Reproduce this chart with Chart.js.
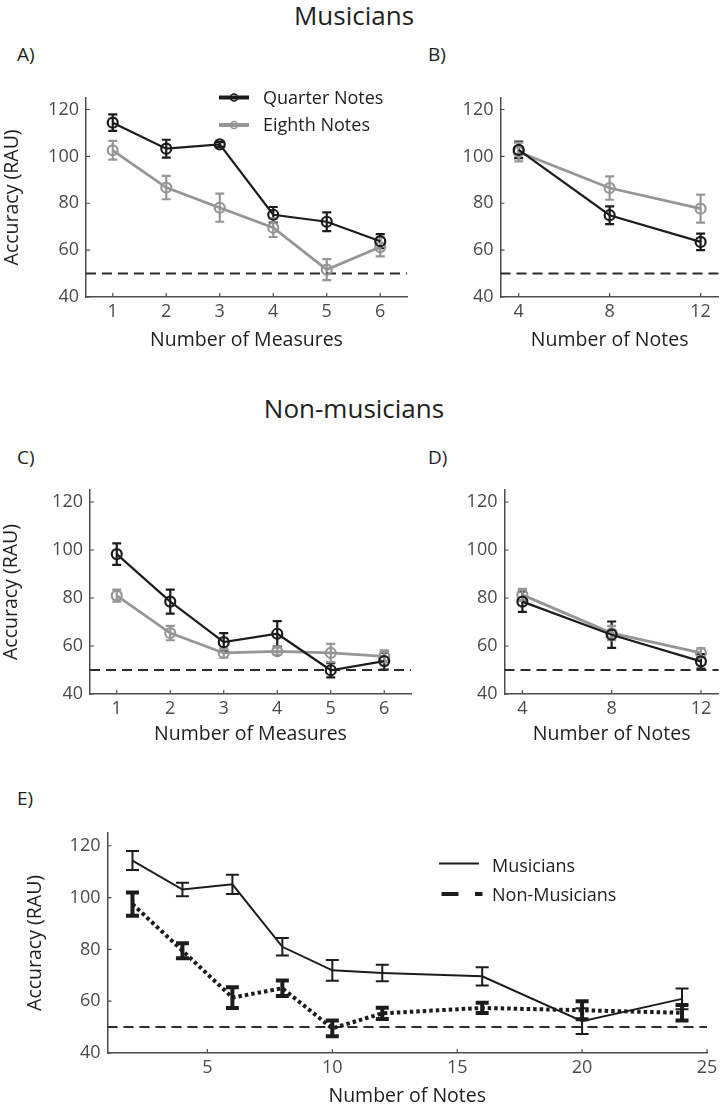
<!DOCTYPE html>
<html>
<head>
<meta charset="utf-8">
<script src="https://cdn.jsdelivr.net/npm/chart.js@4.4.1/dist/chart.umd.min.js"></script>
<style>
  body { margin: 0; width: 726px; height: 1104px; background: #fff; position: relative; overflow: hidden; font-family: 'Open Sans', sans-serif; color: #1e1e1e; }
  canvas { position: absolute; }
  .txt { position: absolute; white-space: nowrap; }
  .head { font-size: 26px; line-height: 26px; }
  .tag { font-size: 19px; line-height: 19px; }
  .leg { font-size: 18px; line-height: 18px; }
  svg { position: absolute; overflow: visible; }
</style>
</head>
<body>

<div class="txt head" style="left:354px; top:2px; transform:translateX(-50%);">Musicians</div>
<div class="txt head" style="left:354px; top:395px; transform:translateX(-50%);">Non-musicians</div>

<div class="txt tag" style="left:17px; top:45px;">A)</div>
<div class="txt tag" style="left:428px; top:45px;">B)</div>
<div class="txt tag" style="left:17px; top:448px;">C)</div>
<div class="txt tag" style="left:428px; top:448px;">D)</div>
<div class="txt tag" style="left:17px; top:789px;">E)</div>

<canvas id="chartA"></canvas>
<canvas id="chartB"></canvas>
<canvas id="chartC"></canvas>
<canvas id="chartD"></canvas>
<canvas id="chartE"></canvas>

<!-- legend for panel A -->
<svg style="left:0; top:0;" width="1" height="1">
  <line x1="219" y1="97.5" x2="249" y2="97.5" stroke="#1c1c1c" stroke-width="4"/>
  <circle cx="234" cy="97.5" r="3.5" fill="none" stroke="#1c1c1c" stroke-width="1.5"/>
  <line x1="219" y1="125" x2="249" y2="125" stroke="#969696" stroke-width="4"/>
  <circle cx="234" cy="125" r="3.5" fill="none" stroke="#969696" stroke-width="1.5"/>
  <line x1="439" y1="863.5" x2="479" y2="863.5" stroke="#1c1c1c" stroke-width="2"/>
  <line x1="441.5" y1="894" x2="458.5" y2="894" stroke="#1c1c1c" stroke-width="4"/>
  <line x1="475" y1="894" x2="482.5" y2="894" stroke="#1c1c1c" stroke-width="4"/>
</svg>
<div class="txt leg" style="left:263px; top:88px;">Quarter Notes</div>
<div class="txt leg" style="left:263px; top:115px;">Eighth Notes</div>
<div class="txt leg" style="left:492px; top:856px;">Musicians</div>
<div class="txt leg" style="left:492px; top:885px;">Non-Musicians</div>

<script>
// tick values and chance level
const yTicks = [40, 60, 80, 100, 120];
const chance = 50;

const measures = [1, 2, 3, 4, 5, 6];
const notes = [4, 8, 12];
const notesAll = [2, 4, 6, 8, 10, 12, 16, 20, 24];
const notesAllTicks = [5, 10, 15, 20, 25];

// A) musicians, by number of measures
const quarterMusMeasures = [114.4, 103.3, 105.1, 75.1, 72.1, 63.8];
const quarterMusMeasuresErr = [3.5, 3.8, 1.0, 3.3, 4.0, 3.0];
const eighthMusMeasures = [102.6, 86.7, 78.1, 69.6, 51.7, 61.3];
const eighthMusMeasuresErr = [4.0, 5.0, 6.0, 4.0, 4.5, 4.0];

// B) musicians, by number of notes
const quarterMusNotes = [102.8, 74.9, 63.5];
const quarterMusNotesErr = [3.5, 3.8, 3.5];
const eighthMusNotes = [101.9, 86.5, 77.7];
const eighthMusNotesErr = [4.0, 5.0, 6.0];

// C) non-musicians, by number of measures
const quarterNonMeasures = [98.3, 78.5, 61.6, 65.1, 49.9, 53.7];
const quarterNonMeasuresErr = [4.5, 5.0, 3.8, 5.3, 3.0, 3.5];
const eighthNonMeasures = [81.0, 65.4, 57.1, 57.8, 57.1, 55.7];
const eighthNonMeasuresErr = [2.5, 3.0, 2.0, 1.5, 3.8, 2.5];

// D) non-musicians, by number of notes
const quarterNonNotes = [78.5, 64.7, 53.6];
const quarterNonNotesErr = [4.3, 5.5, 3.0];
const eighthNonNotes = [81.3, 65.4, 57.1];
const eighthNonNotesErr = [2.5, 3.0, 2.0];

// E) both groups, all note counts
const musiciansAll = [114.3, 103.1, 105.1, 81.0, 71.9, 70.9, 69.6, 52.3, 60.9];
const musiciansAllErr = [3.7, 2.6, 3.7, 3.4, 4.0, 3.2, 3.5, 5.0, 4.0];
const nonMusiciansAll = [97.5, 79.5, 61.4, 65.0, 49.5, 55.3, 57.4, 56.5, 55.5];
const nonMusiciansAllErr = [4.5, 2.9, 4.0, 3.0, 3.0, 2.2, 2.0, 3.5, 3.0];

const dark = '#1c1c1c';
const gray = '#969696';
const axisColor = '#4d4d4d';
const tickColor = '#4a4a4a';
const fontFamily = "'Open Sans', sans-serif";

const pts = (xs, ys) => xs.map((x, i) => ({ x: x, y: ys[i] }));

// error bars drawn with the chart's own y scale
const errorBars = {
	id: 'errorBars',
	beforeDatasetsDraw(chart) {
		const ctx = chart.ctx;
		const y = chart.scales.y;
		chart.data.datasets.forEach((ds, i) => {
			if (!ds.errors) return;
			const meta = chart.getDatasetMeta(i);
			const c = ds.capWidth / 2;
			ctx.save();
			ctx.strokeStyle = ds.borderColor;
			ctx.lineWidth = ds.errorWidth;
			ctx.beginPath();
			meta.data.forEach((pt, j) => {
				const v = ds.data[j].y;
				const top = y.getPixelForValue(v + ds.errors[j]);
				const bot = y.getPixelForValue(v - ds.errors[j]);
				ctx.moveTo(pt.x, top); ctx.lineTo(pt.x, bot);
				ctx.moveTo(pt.x - c, top); ctx.lineTo(pt.x + c, top);
				ctx.moveTo(pt.x - c, bot); ctx.lineTo(pt.x + c, bot);
			});
			ctx.stroke();
			ctx.restore();
		});
	}
};

// small tick marks pointing into the plot, like the original figure
const innerTicks = {
	id: 'innerTicks',
	afterDraw(chart) {
		const { ctx, chartArea: a, scales: { x, y } } = chart;
		ctx.save();
		ctx.strokeStyle = axisColor;
		ctx.lineWidth = 1.2;
		ctx.beginPath();
		x.ticks.forEach(t => {
			const px = x.getPixelForValue(t.value);
			ctx.moveTo(px, a.bottom); ctx.lineTo(px, a.bottom - 4);
		});
		y.ticks.forEach(t => {
			const py = y.getPixelForValue(t.value);
			ctx.moveTo(a.left, py); ctx.lineTo(a.left + 4, py);
		});
		ctx.stroke();
		ctx.restore();
	}
};

function chanceLine(xMin, xMax) {
	return {
		data: [{ x: xMin, y: chance }, { x: xMax, y: chance }],
		borderColor: '#2b2b2b',
		borderWidth: 2,
		borderDash: [10, 6],
		pointRadius: 0
	};
}

function circleSeries(xs, ys, errs, color, width) {
	return {
		data: pts(xs, ys),
		errors: errs,
		borderColor: color,
		borderWidth: width,
		errorWidth: 2.2,
		capWidth: 9,
		pointRadius: 5,
		pointBorderWidth: 2.2,
		pointBorderColor: color,
		pointBackgroundColor: 'rgba(0,0,0,0)'
	};
}

function drawPanel(id, frame, plot, xMin, xMax, xTicks, xTitle, yTitle, yTitlePad, datasets) {
	const canvas = document.getElementById(id);
	canvas.width = frame.width;
	canvas.height = frame.height;
	canvas.style.left = frame.left + 'px';
	canvas.style.top = frame.top + 'px';

	const yWidth = plot.left - frame.left;
	const xHeight = frame.top + frame.height - plot.bottom;

	return new Chart(canvas.getContext('2d'), {
		type: 'line',
		data: { datasets: datasets },
		options: {
			responsive: false,
			animation: false,
			layout: {
				padding: { top: plot.top - frame.top, right: frame.left + frame.width - plot.right, left: 0, bottom: 0 }
			},
			elements: { line: { tension: 0, fill: false } },
			plugins: { legend: { display: false }, tooltip: { enabled: false } },
			scales: {
				x: {
					type: 'linear',
					min: xMin,
					max: xMax,
					grid: { display: false, drawTicks: false },
					border: { display: true, color: axisColor, width: 1.5 },
					afterBuildTicks: s => { s.ticks = xTicks.map(v => ({ value: v })); },
					afterFit: s => { s.height = xHeight; },
					ticks: { color: tickColor, font: { family: fontFamily, size: 18 }, padding: 4, maxRotation: 0, autoSkip: false },
					title: { display: true, text: xTitle, color: '#1e1e1e', font: { family: fontFamily, size: 19.5 }, padding: 0 }
				},
				y: {
					min: 40,
					max: 125,
					grid: { display: false, drawTicks: false },
					border: { display: true, color: axisColor, width: 1.5 },
					afterBuildTicks: s => { s.ticks = yTicks.map(v => ({ value: v })); },
					afterFit: s => { s.width = yWidth; },
					ticks: { color: tickColor, font: { family: fontFamily, size: 18 }, padding: 7 },
					title: { display: !!yTitle, text: yTitle || '', color: '#1e1e1e', font: { family: fontFamily, size: 19.5 }, padding: { top: yTitlePad, bottom: 0 } }
				}
			}
		},
		plugins: [errorBars, innerTicks]
	});
}

// A
drawPanel('chartA',
	{ left: 0, top: 80, width: 420, height: 272 },
	{ left: 86, top: 93, right: 407, bottom: 297 },
	0.5, 6.5, measures, 'Number of Measures', 'Accuracy (RAU)', 1,
	[
		circleSeries(measures, quarterMusMeasures, quarterMusMeasuresErr, dark, 2.2),
		circleSeries(measures, eighthMusMeasures, eighthMusMeasuresErr, gray, 2.8),
		chanceLine(0.5, 6.5)
	]);

// B
drawPanel('chartB',
	{ left: 430, top: 80, width: 296, height: 272 },
	{ left: 500.5, top: 93, right: 720, bottom: 297 },
	3.2, 12.8, notes, 'Number of Notes', null, 0,
	[
		circleSeries(notes, quarterMusNotes, quarterMusNotesErr, dark, 2.2),
		circleSeries(notes, eighthMusNotes, eighthMusNotesErr, gray, 2.8),
		chanceLine(3.2, 12.8)
	]);

// C
drawPanel('chartC',
	{ left: 0, top: 470, width: 420, height: 276 },
	{ left: 90, top: 490, right: 411, bottom: 694 },
	0.5, 6.5, measures, 'Number of Measures', 'Accuracy (RAU)', 0,
	[
		circleSeries(measures, quarterNonMeasures, quarterNonMeasuresErr, dark, 2.2),
		circleSeries(measures, eighthNonMeasures, eighthNonMeasuresErr, gray, 2.8),
		chanceLine(0.5, 6.5)
	]);

// D
drawPanel('chartD',
	{ left: 430, top: 470, width: 296, height: 276 },
	{ left: 504.5, top: 490, right: 724, bottom: 694 },
	3.2, 12.8, notes, 'Number of Notes', null, 0,
	[
		circleSeries(notes, quarterNonNotes, quarterNonNotesErr, dark, 2.2),
		circleSeries(notes, eighthNonNotes, eighthNonNotesErr, gray, 2.8),
		chanceLine(3.2, 12.8)
	]);

// E
drawPanel('chartE',
	{ left: 0, top: 815, width: 726, height: 293 },
	{ left: 107.5, top: 832, right: 707, bottom: 1053 },
	1, 25, notesAllTicks, 'Number of Notes', 'Accuracy (RAU)', 24,
	[
		{
			data: pts(notesAll, musiciansAll),
			errors: musiciansAllErr,
			borderColor: dark,
			borderWidth: 2,
			errorWidth: 2,
			capWidth: 13,
			pointRadius: 0
		},
		{
			data: pts(notesAll, nonMusiciansAll),
			errors: nonMusiciansAllErr,
			borderColor: dark,
			borderWidth: 4,
			borderDash: [3.5, 3],
			errorWidth: 4,
			capWidth: 13,
			pointRadius: 0
		},
		chanceLine(1, 25)
	]);
</script>
</body>
</html>
